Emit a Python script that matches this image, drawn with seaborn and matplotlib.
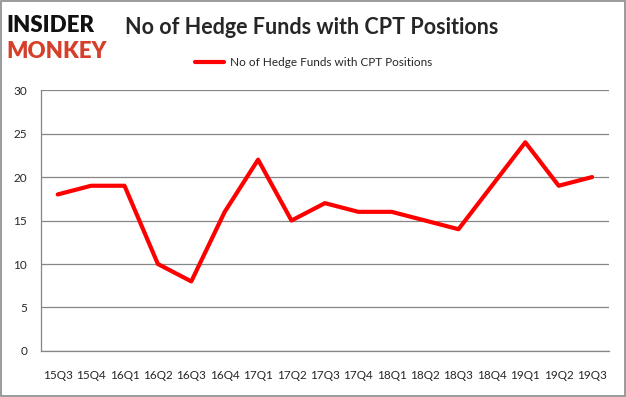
#!/usr/bin/env python3

import pandas as pd
import numpy as np
import matplotlib
matplotlib.use("Agg")
import matplotlib.pyplot as plt
import seaborn as sns

quarters = ["15Q3", "15Q4", "16Q1", "16Q2", "16Q3", "16Q4", "17Q1", "17Q2", "17Q3",
            "17Q4", "18Q1", "18Q2", "18Q3", "18Q4", "19Q1", "19Q2", "19Q3"]
funds = [18, 19, 19, 10, 8, 16, 22, 15, 17, 16, 16, 15, 14, 19, 24, 19, 20]
label = "No of Hedge Funds with CPT Positions"

sns.set_style("white")
plt.rcParams["font.family"] = ["Lato", "DejaVu Sans"]

df = pd.DataFrame({"quarter": quarters, "value": funds})
df["pos"] = np.arange(len(quarters))

fig = plt.figure(figsize=(6.26, 3.97), dpi=100)
ax = fig.add_axes([0.0655, 0.116, 0.907, 0.657])
sns.lineplot(df, x="pos", y="value", color="#ff0000", linewidth=3, ax=ax, label=label)

ax.set_xlim(-0.5, len(quarters) - 0.5)
ax.set_ylim(0, 30)
ax.set_yticks(range(0, 31, 5))
ax.yaxis.grid(True, color="#868686", linewidth=0.9)
ax.set_xticks(df["pos"])
ax.set_xticklabels(quarters, fontsize=8.5)
ax.set_xticks(np.arange(-0.5, len(quarters), 1), minor=True)
ax.tick_params(axis="x", which="major", length=0, pad=14)
ax.tick_params(axis="x", which="minor", length=4, color="#868686", width=0.9)
ax.tick_params(axis="y", labelsize=8.5, length=0, pad=10)
ax.set_xlabel("")
ax.set_ylabel("")
for side in ["top", "right"]:
    ax.spines[side].set_visible(False)
for side in ["left", "bottom"]:
    ax.spines[side].set_color("#868686")
    ax.spines[side].set_linewidth(0.9)

ax.legend(loc="center", bbox_to_anchor=(0.48, 1.107), frameon=False, fontsize=8.5,
          handlelength=2.4, handletextpad=0.5)

fig.text(0.199, 0.93, "No of Hedge Funds with CPT Positions", fontsize=15.5,
         fontweight="bold", va="center", ha="left")
fig.text(0.01, 0.935, "INSIDER", fontsize=16, fontweight="heavy", color="#111111",
         va="center", ha="left")
fig.text(0.01, 0.87, "MONKEY", fontsize=16, fontweight="heavy", color="#d5402b",
         va="center", ha="left")

fig.patches.append(plt.Rectangle((0.0015, 0.0025), 0.997, 0.995, transform=fig.transFigure,
                                 fill=False, edgecolor="#8a8a8a", linewidth=1.2))

plt.savefig("out.png", dpi=100)
